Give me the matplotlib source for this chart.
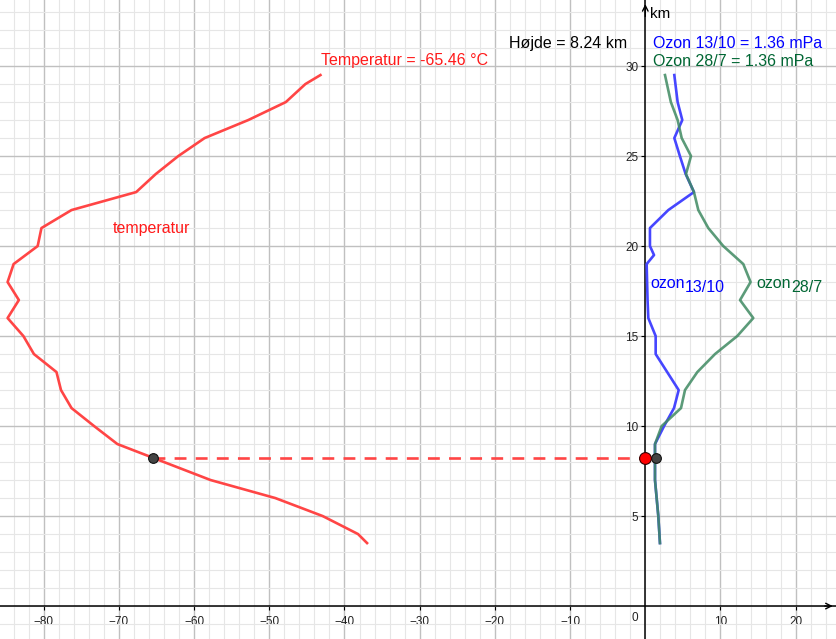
import numpy as np
import matplotlib.pyplot as plt
from matplotlib.ticker import MultipleLocator

plt.rcParams['font.family'] = ['Liberation Sans', 'DejaVu Sans']

# temperaturprofil (km, grader C)
temp_hoejde = [3.5, 4, 5, 6, 7, 9, 10, 11, 12, 13, 14, 15, 16, 17, 18, 19, 20,
               21, 22, 23, 24, 25, 26, 27, 28, 29, 29.5]
temp = [-37.0, -38.2, -42.9, -49.2, -57.8, -70.2, -73.3, -76.3, -77.7, -78.3,
        -81.3, -82.7, -84.8, -83.3, -84.8, -84.0, -80.8, -80.3, -76.3, -67.7,
        -65.1, -62.1, -58.6, -52.8, -47.8, -45.2, -43.2]

# ozon 13/10 (mPa)
o13_hoejde = [3.5, 5, 7, 9, 10, 11, 12, 14, 15, 16, 17, 19, 19.5, 20, 21, 22,
              23, 24, 25, 26, 27, 28, 29.5]
o13 = [1.95, 1.73, 1.29, 1.29, 2.5, 3.82, 4.44, 1.38, 1.38, 0.4, 0.3, 0.18,
       1.16, 0.62, 0.62, 3.06, 6.47, 5.37, 4.6, 3.86, 4.92, 4.3, 3.86]

# ozon 28/7 (mPa)
o28_hoejde = [3.5, 5, 7, 9, 10, 11, 12, 13, 14, 15, 16, 17, 18, 19, 20, 21, 22,
              23, 24, 25, 26, 27, 28, 29.5]
o28 = [1.95, 1.73, 1.29, 1.29, 2.18, 4.75, 5.28, 6.92, 9.27, 12.23, 14.36,
       12.6, 14.0, 13.03, 10.37, 8.38, 7.05, 6.47, 5.41, 6.08, 4.84, 4.3, 3.4,
       2.62]

hoejde = 8.24
temp_val = -65.46
ozon_val = 1.36

xticks = [-80, -70, -60, -50, -40, -30, -20, -10, 10, 20]
yticks = [5, 10, 15, 20, 25, 30]

red = '#ff4545'
blue = '#4646ff'
green = '#3f8a62'

fig = plt.figure(figsize=(8.36, 6.39), dpi=100)
ax = fig.add_axes([0, 0, 1, 1])
ax.set_xlim(-85.81, 25.36)
ax.set_ylim(-1.83, 33.67)

ax.set_xticks(xticks)
ax.set_yticks(yticks)
ax.xaxis.set_minor_locator(MultipleLocator(2))
ax.yaxis.set_minor_locator(MultipleLocator(1))
ax.grid(which='major', color='#c0c0c0', lw=1.0, zorder=0)
ax.grid(which='minor', color='#e6e6e6', lw=0.8, zorder=0)
ax.set_axisbelow(True)

for s in ['top', 'right']:
    ax.spines[s].set_visible(False)
ax.spines['left'].set_position(('data', 0))
ax.spines['bottom'].set_position(('data', 0))
ax.spines['left'].set_linewidth(1.1)
ax.spines['bottom'].set_linewidth(1.1)
ax.tick_params(which='minor', length=0)
ax.tick_params(which='major', length=3, width=0.8, labelsize=8.5,
               labelcolor='#222222', pad=2)
ax.tick_params(axis='x', pad=4)

ax.annotate('', xy=(25.3, 0), xytext=(23.5, 0),
            arrowprops=dict(arrowstyle='->', color='black', lw=1.0))
ax.annotate('', xy=(0, 33.6), xytext=(0, 32.6),
            arrowprops=dict(arrowstyle='->', color='black', lw=1.0))
ax.text(-1.37, -0.68, '0', ha='center', va='center', fontsize=8.5, color='#222222')
ax.text(0.6, 32.9, 'km', ha='left', va='center', fontsize=11)

# kurver
ax.plot(temp, temp_hoejde, color=red, lw=1.9, zorder=3)
ax.plot(o13, o13_hoejde, color=blue, lw=1.9, zorder=3)
ax.plot(o28, o28_hoejde, color=green, lw=1.9, alpha=0.85, zorder=4)

ax.plot([temp_val, 0], [hoejde, hoejde], color=red, lw=1.9,
        dashes=(4.5, 3.5), zorder=3)
ax.plot(temp_val, hoejde, 'o', ms=7, mfc='#444444', mec='#111111', mew=0.8, zorder=5)
ax.plot(ozon_val, hoejde, 'o', ms=7, mfc='#444444', mec='#111111', mew=0.8, zorder=5)
ax.plot(0, hoejde, 'o', ms=8.5, mfc='#ff0000', mec='#330000', mew=0.8, zorder=6)

# tekster
fs = 11.5
ax.text(-43.1, 30.33, 'Temperatur = %.2f °C' % temp_val, color='#ff1a1a',
        fontsize=fs, ha='left', va='center')
ax.text(-18.1, 31.26, 'Højde = %.2f km' % hoejde, color='black',
        fontsize=fs, ha='left', va='center')
ax.text(1.06, 31.26, 'Ozon 13/10 = %.2f mPa' % ozon_val, color='#0000ff',
        fontsize=fs, ha='left', va='center')
ax.text(1.06, 30.28, 'Ozon 28/7 = %.2f mPa' % ozon_val, color='#006633',
        fontsize=fs, ha='left', va='center')
ax.text(-70.8, 20.98, 'temperatur', color='#ff1a1a', fontsize=fs,
        ha='left', va='center')

t1 = ax.text(0.7, 17.94, 'ozon', color='#0000ff', fontsize=fs,
             ha='left', va='center')
ax.annotate('13/10', xy=(1, 0), xycoords=t1, xytext=(0, -3),
            textcoords='offset points', color='#0000ff', fontsize=fs,
            ha='left', va='bottom')
t2 = ax.text(14.8, 17.94, 'ozon', color='#006633', fontsize=fs,
             ha='left', va='center')
ax.annotate('28/7', xy=(1, 0), xycoords=t2, xytext=(0, -3),
            textcoords='offset points', color='#006633', fontsize=fs,
            ha='left', va='bottom')

fig.savefig('out.png', dpi=100)
